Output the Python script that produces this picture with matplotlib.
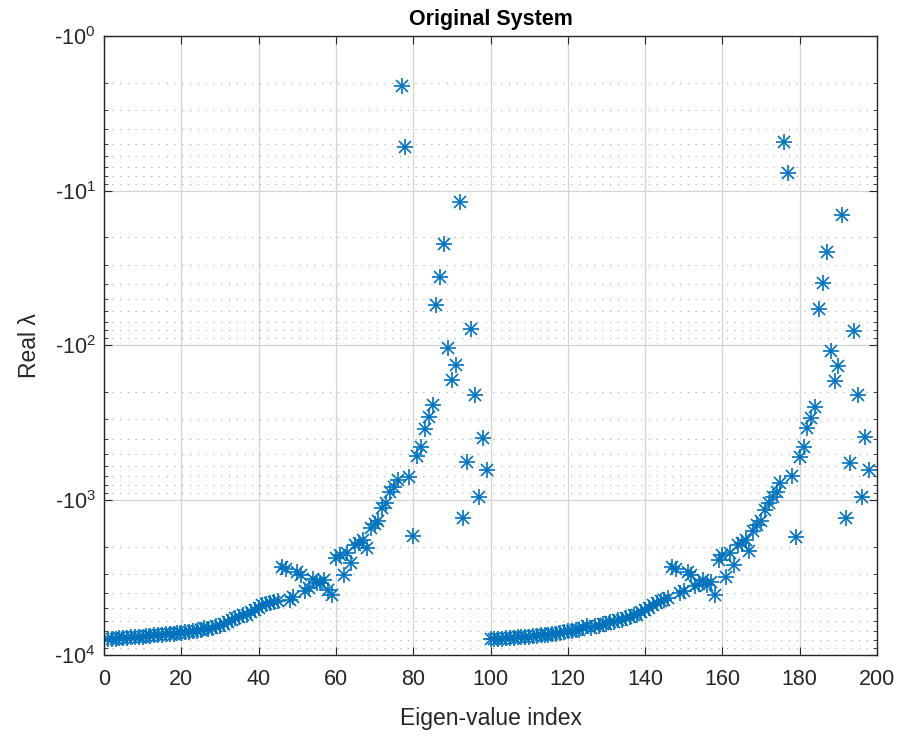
import numpy as np
import matplotlib.pyplot as plt
from matplotlib.ticker import FixedLocator, FuncFormatter, LogLocator, NullFormatter

# real part of the eigenvalues, first block (index 1-99)
real_lambda_a = [
    -7890, -7880, -7850, -7790, -7770, -7740, -7700, -7650, -7640, -7600,
    -7560, -7530, -7480, -7440, -7420, -7360, -7310, -7280, -7210, -7180,
    -7100, -7060, -6990, -6950, -6890, -6690, -6800, -6690, -6500, -6450,
    -6300, -6120, -5940, -5770, -5700, -5520, -5480, -5270, -5120, -4970,
    -4750, -4700, -4610, -4540, -4480, -2700, -2780, -4410, -4220, -2910,
    -3040, -3860, -3690, -3230, -3430, -3430, -3280, -3800, -4090, -2360,
    -2260, -3040, -2190, -2550, -1950, -1890, -1810, -2040, -1510, -1420,
    -1360, -1120, -1040, -885, -821, -740, -2.10, -5.22, -708, -1700,
    -518, -453, -346, -290, -242, -54.7, -36.1, -22.1, -104, -167,
    -134, -11.8, -1300, -566, -78.2, -209, -953, -396, -638,
]
# second block (index 100-198)
real_lambda_b = [
    -7900, -7880, -7860, -7830, -7780, -7760, -7720, -7700, -7650, -7620,
    -7600, -7540, -7500, -7480, -7420, -7400, -7320, -7290, -7210, -7100,
    -7000, -6980, -6900, -6870, -6690, -6500, -6690, -6500, -6450, -6300,
    -6280, -6120, -6090, -5940, -5900, -5770, -5720, -5520, -5480, -5270,
    -5120, -4970, -4750, -4610, -4480, -4410, -4280, -2700, -2780, -3980,
    -3860, -2910, -3040, -3580, -3480, -3280, -3530, -3380, -4090, -2430,
    -2260, -3130, -2190, -2620, -1950, -1890, -1810, -2120, -1570, -1450,
    -1360, -1150, -1040, -950, -885, -775, -4.84, -7.67, -700, -1730,
    -526, -453, -341, -294, -250, -58.1, -39.4, -24.9, -109, -169,
    -136, -14.4, -1300, -574, -80.6, -209, -953, -390, -638,
]
xticks = [0, 20, 40, 60, 80, 100, 120, 140, 160, 180, 200]
yticks = [1, 10, 100, 1000, 10000]

real_lambda = np.array(real_lambda_a + real_lambda_b)
idx = np.arange(1, len(real_lambda) + 1)

plt.rcParams['font.family'] = ['Liberation Sans', 'DejaVu Sans']
plt.rcParams['mathtext.fontset'] = 'custom'
plt.rcParams['mathtext.rm'] = 'Liberation Sans'
plt.rcParams['mathtext.it'] = 'Liberation Sans:italic'

dark = '#262626'
blue = '#0072BD'

fig = plt.figure(figsize=(9.01, 7.38), dpi=100)
ax = fig.add_axes([0.1154, 0.1125, 0.8580, 0.8387])

# MATLAB style asterisk = plus + cross
ax.plot(idx, -real_lambda, linestyle='none', marker='+', markersize=12,
        markeredgewidth=1.2, color=blue)
ax.plot(idx, -real_lambda, linestyle='none', marker='x', markersize=8,
        markeredgewidth=1.2, color=blue)

ax.set_yscale('log')
ax.set_ylim(1e4, 1)
ax.set_xlim(0, 200)
ax.set_xticks(xticks)
ax.yaxis.set_major_locator(FixedLocator(yticks))
ax.yaxis.set_major_formatter(FuncFormatter(lambda v, p: r'-10$^{%d}$' % round(np.log10(v))))
ax.yaxis.set_minor_locator(LogLocator(base=10, subs=np.arange(2, 10)))
ax.yaxis.set_minor_formatter(NullFormatter())

ax.grid(True, which='major', color='#d4d4d4', linewidth=0.9)
ax.grid(True, which='minor', axis='y', color='#a8a8a8', linestyle=(0, (1, 6)), linewidth=0.8)
ax.set_axisbelow(True)

ax.tick_params(direction='in', top=True, right=True, colors=dark, labelsize=15.5, length=6)
ax.tick_params(axis='x', pad=10)
ax.tick_params(axis='y', pad=6)
ax.tick_params(which='minor', direction='in', right=True, length=3, colors=dark)
for s in ax.spines.values():
    s.set_color(dark)
    s.set_linewidth(1.0)

ax.set_title('Original System', fontsize=15.5, fontweight='bold', color='black', pad=8)
ax.set_xlabel('Eigen-value index', fontsize=16.5, color=dark, labelpad=12)
ax.set_ylabel('Real λ', fontsize=16.5, color=dark, labelpad=10)

fig.savefig('out.png', dpi=100)
